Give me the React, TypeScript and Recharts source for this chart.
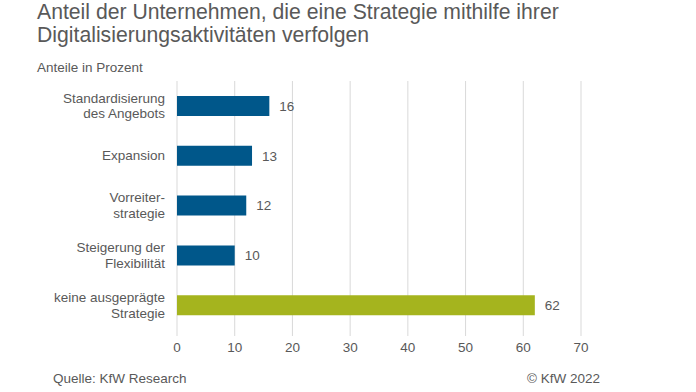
import React from "react";
import { BarChart, Bar, XAxis, YAxis, CartesianGrid, Cell, LabelList } from "recharts";

const categories = [
  "Standardisierung\ndes Angebots",
  "Expansion",
  "Vorreiter-\nstrategie",
  "Steigerung der\nFlexibilität",
  "keine ausgeprägte\nStrategie",
];
const values = [16, 13, 12, 10, 62];
const barColors = ["#00578A", "#00578A", "#00578A", "#00578A", "#A5B41E"];
const xTicks = [0, 10, 20, 30, 40, 50, 60, 70];

const title1 = "Anteil der Unternehmen, die eine Strategie mithilfe ihrer";
const title2 = "Digitalisierungsaktivitäten verfolgen";
const subtitle = "Anteile in Prozent";
const source = "Quelle: KfW Research";
const copyright = "© KfW 2022";

const data = categories.map((c, i) => ({ name: c, value: values[i] }));

const FONT = "'Liberation Sans', Arial, sans-serif";
const GRAY = "#595959";
const FS = 13.5;

const YTick = (props: any) => {
  const { x, y, payload } = props;
  const lines = String(payload.value).split("\n");
  const lh = 15.5;
  const start = -((lines.length - 1) * lh) / 2;
  return (
    <text x={x} y={y} textAnchor="end" fill={GRAY} fontSize={FS} fontFamily={FONT}>
      {lines.map((l, i) => (
        <tspan key={i} x={x} y={y + start + i * lh} dy="0.35em">
          {l}
        </tspan>
      ))}
    </text>
  );
};

export default function App() {
  return (
    <div style={{ position: "absolute", left: 0, top: 0, width: 696, height: 392, background: "#fff", fontFamily: FONT }}>
      <svg width={696} height={392} style={{ position: "absolute", left: 0, top: 0 }}>
        <text x={37} y={18.5} fontSize={21.2} fill={GRAY} fontFamily={FONT}>{title1}</text>
        <text x={37} y={41.5} fontSize={21.2} fill={GRAY} fontFamily={FONT}>{title2}</text>
        <text x={37} y={72} fontSize={FS} fill={GRAY} fontFamily={FONT}>{subtitle}</text>
        <text x={53} y={382.5} fontSize={FS} fill={GRAY} fontFamily={FONT}>{source}</text>
        <text x={600} y={382.5} fontSize={FS} fill={GRAY} fontFamily={FONT} textAnchor="end">{copyright}</text>
      </svg>
      <div style={{ position: "absolute", left: 0, top: 0 }}>
        <BarChart
          width={696}
          height={392}
          data={data}
          layout="vertical"
          margin={{ top: 81, right: 115, bottom: 32, left: 0 }}
          barSize={20}
        >
          <CartesianGrid horizontal={false} stroke="#D9D9D9" />
          <XAxis
            type="number"
            domain={[0, 70]}
            ticks={xTicks}
            axisLine={false}
            tickLine={{ stroke: "#D9D9D9" }}
            tickSize={6}
            tickMargin={6}
            height={30}
            tick={{ fill: GRAY, fontSize: FS, fontFamily: FONT }}
            interval={0}
          />
          <YAxis
            type="category"
            dataKey="name"
            width={177}
            axisLine={false}
            tickLine={false}
            tickMargin={6}
            tick={<YTick />}
            interval={0}
          />
          <Bar dataKey="value" isAnimationActive={false}>
            {data.map((d, i) => (
              <Cell key={i} fill={barColors[i]} />
            ))}
            <LabelList dataKey="value" position="right" offset={10} fill={GRAY} fontSize={FS} fontFamily={FONT} />
          </Bar>
        </BarChart>
      </div>
    </div>
  );
}
